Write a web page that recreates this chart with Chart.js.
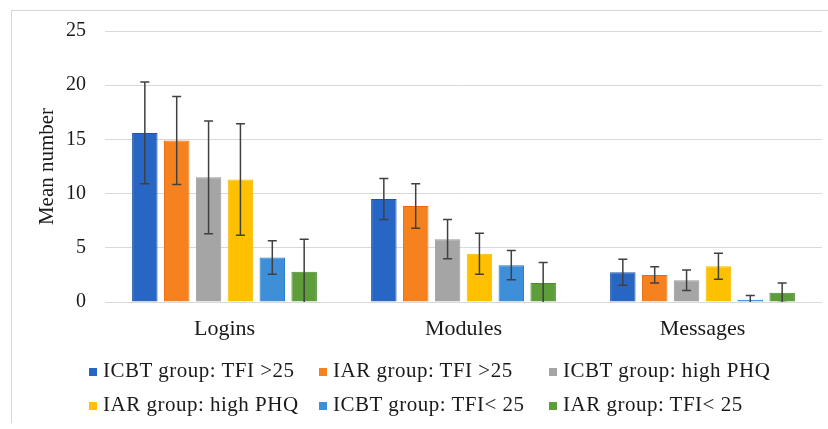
<!DOCTYPE html>
<html>
<head>
<meta charset="utf-8">
<script src="https://cdn.jsdelivr.net/npm/chart.js@4.4.1/dist/chart.umd.min.js"></script>
<style>
  body { margin: 0; background: #fff; }
  #wrap { position: relative; width: 828px; height: 429px; overflow: hidden; }
  #frame { position: absolute; left: 11px; top: 10px; width: 900px; height: 412px;
           border-left: 1px solid #d6d6d6; border-top: 1px solid #d6d6d6; }
  #legend { position: absolute; left: 0; top: 0; width: 828px; height: 429px; pointer-events: none;
            font-family: "Liberation Serif", "Times New Roman", serif; font-size: 21px;
            letter-spacing: 0.5px; color: #1a1a1a; }
  .item { position: absolute; height: 24px; line-height: 24px; white-space: nowrap; }
  .box { display: inline-block; width: 8px; height: 8px; margin-right: 6px; vertical-align: 1px; }
</style>
</head>
<body>
<div id="wrap">
  <div id="frame"></div>
  <canvas id="chart"></canvas>
  <div id="legend"></div>
</div>
<script>
// categories
var categories = ["Logins", "Modules", "Messages"]

// mean values per group
var icbtTfiHigh = [15.6, 9.5, 2.75]
var iarTfiHigh = [14.9, 8.85, 2.5]
var icbtPhqHigh = [11.5, 5.8, 2.0]
var iarPhqHigh = [11.3, 4.45, 3.3]
var icbtTfiLow = [4.1, 3.4, 0.2]
var iarTfiLow = [2.8, 1.75, 0.85]

// error bar half widths
var icbtTfiHighErr = [4.7, 1.9, 1.2]
var iarTfiHighErr = [4.05, 2.05, 0.75]
var icbtPhqHighErr = [5.2, 1.8, 0.95]
var iarPhqHighErr = [5.15, 1.9, 1.2]
var icbtTfiLowErr = [1.55, 1.35, 0.4]
var iarTfiLowErr = [3.0, 1.9, 0.9]

var yTicks = [0, 5, 10, 15, 20, 25]

var font = "'Liberation Serif', 'Times New Roman', serif"
var textColor = "#1a1a1a"

var series = [
    { label: "ICBT group: TFI >25", data: icbtTfiHigh, err: icbtTfiHighErr, fill: "#2866c4", line: "#1f55a8" },
    { label: "IAR group: TFI >25", data: iarTfiHigh, err: iarTfiHighErr, fill: "#f5821f", line: "#e86a10" },
    { label: "ICBT group: high PHQ", data: icbtPhqHigh, err: icbtPhqHighErr, fill: "#a5a5a5", line: "#989898" },
    { label: "IAR group: high PHQ", data: iarPhqHigh, err: iarPhqHighErr, fill: "#ffc000", line: "#f5b800" },
    { label: "ICBT group: TFI< 25", data: icbtTfiLow, err: icbtTfiLowErr, fill: "#3f8fd8", line: "#2478c8" },
    { label: "IAR group: TFI< 25", data: iarTfiLow, err: iarTfiLowErr, fill: "#5e9e3a", line: "#4e8a2e" }
]

// error bars drawn on top of the bars
var errorBars = {
    id: "errorBars",
    afterDatasetsDraw: function (chart) {
        var ctx = chart.ctx
        var y = chart.scales.y
        var area = chart.chartArea
        ctx.save()
        ctx.beginPath()
        ctx.rect(area.left, area.top - 5, area.right - area.left, area.bottom - area.top + 5)
        ctx.clip()
        ctx.strokeStyle = "#404040"
        ctx.lineWidth = 1.5
        chart.data.datasets.forEach(function (ds, i) {
            chart.getDatasetMeta(i).data.forEach(function (bar, j) {
                var top = y.getPixelForValue(ds.data[j] + ds.err[j])
                var bot = y.getPixelForValue(ds.data[j] - ds.err[j])
                ctx.beginPath()
                ctx.moveTo(bar.x, top)
                ctx.lineTo(bar.x, bot)
                ctx.moveTo(bar.x - 4.5, top)
                ctx.lineTo(bar.x + 4.5, top)
                ctx.moveTo(bar.x - 4.5, bot)
                ctx.lineTo(bar.x + 4.5, bot)
                ctx.stroke()
            })
        })
        ctx.restore()
    }
}

var chart = new Chart(document.getElementById("chart"), {
    type: "bar",
    data: {
        labels: categories,
        datasets: series.map(function (s) {
            return {
                label: s.label,
                data: s.data,
                err: s.err,
                backgroundColor: s.fill,
                borderColor: s.line,
                borderWidth: 1,
                categoryPercentage: 0.8,
                barPercentage: 0.8
            }
        })
    },
    options: {
        responsive: true,
        maintainAspectRatio: false,
        animation: false,
        devicePixelRatio: 1,
        layout: { padding: { left: 31, right: 6, top: 30, bottom: 0 } },
        plugins: {
            legend: { display: false },
            tooltip: { enabled: false }
        },
        scales: {
            x: {
                grid: { display: false },
                border: { display: false },
                ticks: { color: textColor, font: { family: font, size: 22 }, padding: 6 },
                afterFit: function (scale) { scale.height = 127 }
            },
            y: {
                min: 0,
                max: 25,
                afterBuildTicks: function (scale) {
                    scale.ticks = yTicks.map(function (v) { return { value: v } })
                },
                grid: { color: "#d9d9d9", lineWidth: 1, drawTicks: false },
                border: { display: false },
                ticks: { color: textColor, font: { family: font, size: 20 }, padding: 19 },
                title: {
                    display: true,
                    text: "Mean number",
                    color: textColor,
                    font: { family: font, size: 21 },
                    padding: { top: 4, bottom: 0 }
                },
                afterFit: function (scale) { scale.width = 74 }
            }
        }
    },
    plugins: [errorBars]
})

// legend laid out in two rows of three, like the original
var legend = document.getElementById("legend")
var colLeft = [89, 319, 549]
var rowTop = [358, 392]
chart.data.datasets.forEach(function (ds, i) {
    var item = document.createElement("div")
    item.className = "item"
    item.style.left = colLeft[i % 3] + "px"
    item.style.top = rowTop[Math.floor(i / 3)] + "px"
    var box = document.createElement("span")
    box.className = "box"
    box.style.background = ds.backgroundColor
    item.appendChild(box)
    item.appendChild(document.createTextNode(ds.label))
    legend.appendChild(item)
})
</script>
</body>
</html>
